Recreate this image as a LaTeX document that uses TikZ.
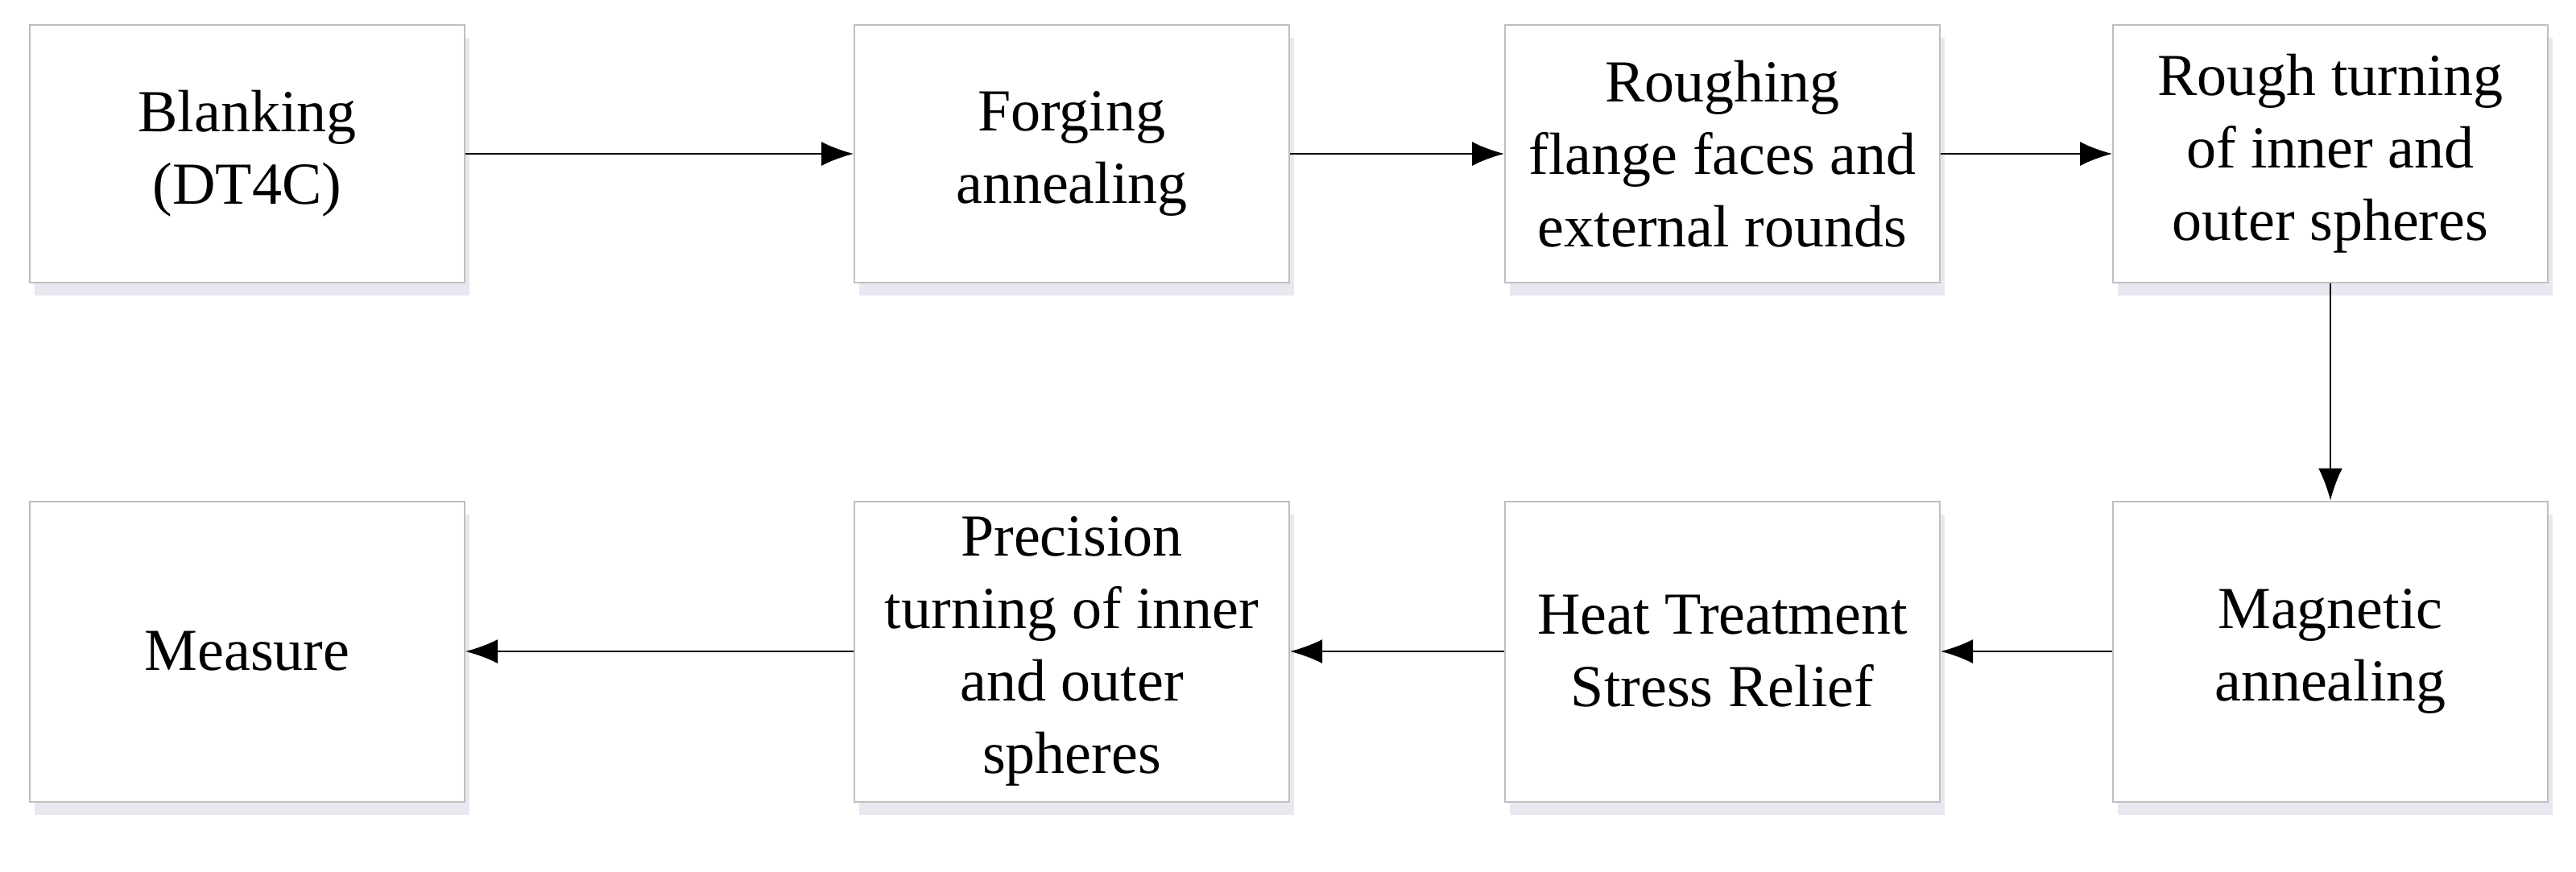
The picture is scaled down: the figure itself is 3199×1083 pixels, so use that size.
\documentclass[tikz,border=0pt]{standalone}
\usepackage{fontspec}
\setmainfont{Liberation Serif}
\usetikzlibrary{arrows.meta,shadows}
\begin{document}
\begin{tikzpicture}[x=1pt,y=-1pt,
  box/.style={draw=black!25,line width=2pt,fill=white,align=center,font=\fontsize{74}{90}\selectfont,
    drop shadow={shadow xshift=6pt,shadow yshift=-16pt,fill=blue!40!black!15,opacity=0.6}},
  top/.style={box,minimum width=540pt,minimum height=320pt,inner sep=0pt},
  bot/.style={box,minimum width=540pt,minimum height=373pt,inner sep=0pt},
  arr/.style={-{Latex[length=40pt,width=30pt]},line width=2pt}]
\useasboundingbox (0,0) rectangle (3199,1083);
\node[top] (a) at (307,191) {Blanking\\(DT4C)};
\node[top] (b) at (1331,191) {Forging\\annealing};
\node[top] (c) at (2139,191) {Roughing\\flange faces and\\external rounds};
\node[top] (d) at (2894,191) {Rough turning\\of inner and\\outer spheres};
\node[bot] (e) at (2894,809) {Magnetic\\annealing};
\node[bot] (f) at (2139,809) {Heat Treatment\\Stress Relief};
\node[bot] (g) at (1331,809) {Precision\\turning of inner\\and outer\\spheres};
\node[bot] (h) at (307,809) {Measure};
\draw[arr] (a) -- (b);
\draw[arr] (b) -- (c);
\draw[arr] (c) -- (d);
\draw[arr] (d) -- (e);
\draw[arr] (e) -- (f);
\draw[arr] (f) -- (g);
\draw[arr] (g) -- (h);
\end{tikzpicture}
\end{document}
